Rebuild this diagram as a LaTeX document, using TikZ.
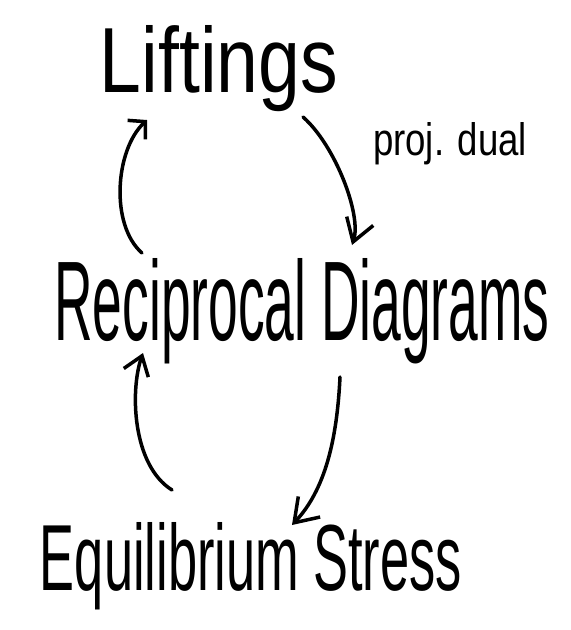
\documentclass[tikz,border=0pt]{standalone}
\usepackage{fontspec}
\setmainfont{Liberation Sans}
\usetikzlibrary{arrows.meta}
\tikzset{
  lbl/.style={inner sep=0pt, anchor=base},
  hand/.style 2 args={line width=3.5pt, line cap=round, line join=round,
    -{Straight Barb[length=#1pt,width=#2pt,line width=3.5pt]}}
}
\begin{document}
\begin{tikzpicture}[x=1pt,y=-1pt]
\useasboundingbox[fill=white] (0,0) rectangle (571,630);
\node[lbl] (lift) at (219,92) {\resizebox{238pt}{67pt}{Liftings}};
\node[lbl] (proj) at (450,155) {\resizebox{154pt}{33pt}{proj. dual}};
\node[lbl] (recip) at (302,340) {\resizebox{495pt}{82pt}{Reciprocal Diagrams}};
\node[lbl] (equil) at (251,590) {\resizebox{422pt}{68pt}{Equilibrium Stress}};
\coordinate (a1s) at (142,253);
\coordinate (a1e) at (147,120);
\coordinate (a2s) at (303,117);
\coordinate (a2e) at (352,245);
\coordinate (a3s) at (340,377);
\coordinate (a3e) at (292,525);
\coordinate (a4s) at (172,490);
\coordinate (a4e) at (143,353);
\draw[hand={12}{26}] (a1s) .. controls (110,225) and (115,150) .. (a1e);
\draw[hand={22}{28}] (a2s) .. controls (335,145) and (362,215) .. (a2e);
\draw[hand={22}{30}] (a3s) .. controls (337,440) and (325,490) .. (a3e);
\draw[hand={18}{26}] (a4s) .. controls (132,465) and (130,390) .. (a4e);
\end{tikzpicture}
\end{document}
